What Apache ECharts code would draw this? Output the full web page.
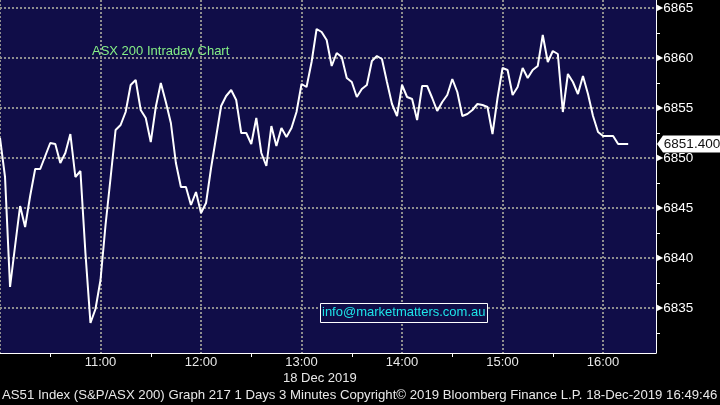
<!DOCTYPE html>
<html>
<head>
<meta charset="utf-8">
<script src="https://cdn.jsdelivr.net/npm/echarts@6/dist/echarts.min.js"></script>
<style>
html, body { margin: 0; padding: 0; background: #000; }
#chart { width: 720px; height: 405px; }
</style>
</head>
<body>
<div id="chart"></div>
<script>
// AS51 3-minute bars, first bar at 10:00 (minutes since midnight)
const startMinute = 600;
const barMinutes = 3;
const prices = [
  6852.0, 6848.1, 6837.1, 6841.2, 6845.2, 6843.1, 6846.2, 6848.9, 6848.9, 6850.2,
  6851.5, 6851.4, 6849.5, 6850.5, 6852.4, 6848.1, 6848.7, 6840.5, 6833.5, 6834.9,
  6837.8, 6843.3, 6848.0, 6852.8, 6853.3, 6854.6, 6857.3, 6857.8, 6854.8, 6854.0,
  6851.6, 6855.1, 6857.5, 6855.6, 6853.5, 6849.5, 6847.1, 6847.1, 6845.3, 6846.6,
  6844.5, 6845.5, 6849.0, 6852.1, 6855.2, 6856.2, 6856.8, 6855.8, 6852.5, 6852.5,
  6851.4, 6854.0, 6850.5, 6849.2, 6853.2, 6851.2, 6853.0, 6852.1, 6853.0, 6854.6,
  6857.4, 6857.1, 6859.6, 6862.9, 6862.6, 6861.8, 6859.2, 6860.5, 6860.1, 6858.0,
  6857.6, 6856.1, 6856.9, 6857.3, 6859.7, 6860.2, 6859.9, 6857.6, 6855.4, 6854.2,
  6857.3, 6856.1, 6855.9, 6853.8, 6857.2, 6857.2, 6856.0, 6854.7, 6855.6, 6856.3,
  6857.9, 6856.6, 6854.2, 6854.4, 6854.8, 6855.4, 6855.3, 6855.1, 6852.4, 6856.0,
  6859.0, 6858.8, 6856.3, 6857.1, 6859.0, 6858.0, 6858.8, 6859.2, 6862.3, 6859.6,
  6860.7, 6860.4, 6854.6, 6858.4, 6857.6, 6856.4, 6858.2, 6856.4, 6854.2, 6852.6,
  6852.2, 6852.2, 6852.2, 6851.4, 6851.4, 6851.4
];

// axis ticks
const hourTicks = [660, 720, 780, 840, 900, 960];
const halfHourTicks = [630, 690, 750, 810, 870, 930];
const priceLabels = [6835, 6840, 6845, 6850, 6855, 6860, 6865];
const priceMinorTicks = [6832.5, 6837.5, 6842.5, 6847.5, 6852.5, 6857.5, 6862.5];

const xMin = 600, xMax = 991.6;
const yMin = 6830.5, yMax = 6865.8;

const navy = "#100d48";
const dotted = { color: "#8e8e8e", width: 2, type: [2, 2] };
const font = "Liberation Sans";

const lastPrice = prices[prices.length - 1];
const seriesData = prices.map((v, i) => [startMinute + i * barMinutes, v]);

function hhmm(m) {
  const h = Math.floor(m / 60);
  const mm = m % 60;
  return h + ":" + (mm < 10 ? "0" + mm : mm);
}

const chart = echarts.init(document.getElementById("chart"));

chart.setOption({
  backgroundColor: "#000",
  animation: false,
  grid: {
    left: 0,
    top: 0,
    width: 656,
    height: 353,
    show: true,
    backgroundColor: navy,
    borderWidth: 0,
  },
  xAxis: [
    {
      type: "value",
      min: xMin,
      max: xMax,
      position: "bottom",
      axisLine: { lineStyle: { color: "#fff", width: 1 } },
      axisTick: {
        customValues: halfHourTicks,
        length: 4,
        lineStyle: { color: "#fff" },
      },
      axisLabel: {
        customValues: hourTicks,
        formatter: (v) => hhmm(v),
        color: "#e8e8e8",
        fontFamily: font,
        fontSize: 13,
        margin: 3,
      },
      splitLine: { show: false },
    },
    {
      // grid lines only
      type: "value",
      min: xMin,
      max: xMax,
      position: "bottom",
      axisLine: { show: false },
      axisTick: { show: false, customValues: [600].concat(hourTicks) },
      axisLabel: { show: false },
      splitLine: { show: true, lineStyle: dotted },
    },
  ],
  yAxis: [
    {
      type: "value",
      min: yMin,
      max: yMax,
      position: "right",
      axisLine: { show: true, lineStyle: { color: "#fff", width: 1 } },
      axisTick: {
        customValues: priceMinorTicks,
        length: 4,
        lineStyle: { color: "#fff" },
      },
      axisLabel: {
        customValues: priceLabels,
        margin: 1,
        formatter: (v) => "{t|▶}{v|" + v + "}",
        rich: {
          t: { color: "#fff", fontSize: 8, fontFamily: "DejaVu Sans" },
          v: { color: "#fff", fontSize: 13.5, fontFamily: font },
        },
      },
      splitLine: { show: false },
    },
    {
      // grid lines only
      type: "value",
      min: yMin,
      max: yMax,
      position: "right",
      axisLine: { show: false },
      axisTick: { show: false, customValues: priceLabels },
      axisLabel: { show: false },
      splitLine: { show: true, lineStyle: dotted },
    },
  ],
  series: [
    {
      type: "line",
      xAxisIndex: 0,
      yAxisIndex: 0,
      data: seriesData,
      showSymbol: false,
      symbol: "none",
      lineStyle: { color: "#fff", width: 2 },
      z: 5,
      markPoint: {
        silent: true,
        symbol: "path://M0,8.5 L6,0 L64,0 L64,17 L6,17 Z",
        symbolSize: [64, 17],
        symbolKeepAspect: false,
        symbolOffset: [33, 0],
        itemStyle: { color: "#fff" },
        label: {
          show: true,
          position: "inside",
          offset: [3, 0],
          formatter: () => lastPrice.toFixed(3),
          color: "#111",
          fontFamily: font,
          fontSize: 13.5,
        },
        data: [{ coord: [xMax, lastPrice] }],
      },
    },
  ],
  graphic: [
    {
      type: "text",
      left: 92,
      top: 45,
      style: {
        text: "ASX 200 Intraday Chart",
        fill: "#86f086",
        font: "13px " + font,
      },
    },
    {
      type: "rect",
      shape: { x: 320.5, y: 303.5, width: 167, height: 19 },
      style: { fill: navy, stroke: "#fff", lineWidth: 1 },
      z: 10,
    },
    {
      type: "text",
      left: 322,
      top: 306,
      style: {
        text: "info@marketmatters.com.au",
        fill: "#1ee4e8",
        font: "13px " + font,
      },
      z: 11,
    },
    {
      type: "text",
      left: 283,
      top: 372,
      style: {
        text: "18 Dec 2019",
        fill: "#e8e8e8",
        font: "13px " + font,
      },
    },
    {
      type: "text",
      left: 2,
      top: 389,
      style: {
        text: "AS51 Index (S&P/ASX 200) Graph 217 1 Days 3 Minutes Copyright\u00a9 2019 Bloomberg Finance L.P. 18-Dec-2019 16:49:46",
        fill: "#e8e8e8",
        font: "13.2px " + font,
      },
    },
  ],
});
</script>
</body>
</html>
